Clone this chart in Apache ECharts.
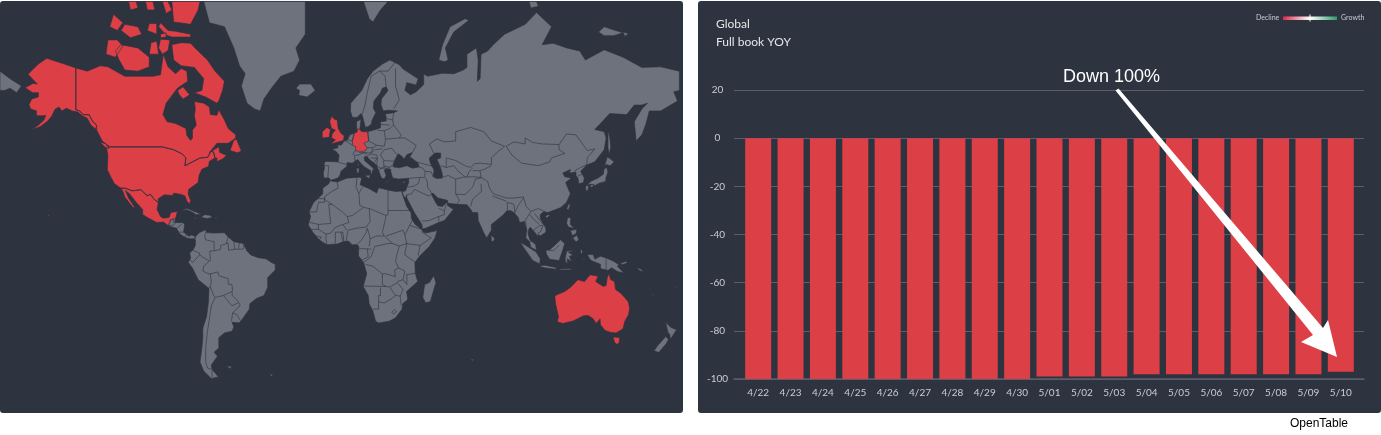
<!DOCTYPE html>
<html><head><meta charset="utf-8"><title>Global Full book YOY</title>
<script src="https://cdn.jsdelivr.net/npm/echarts@6/dist/echarts.min.js"></script>
<style>
html,body{margin:0;padding:0;background:#fff;width:1381px;height:435px;overflow:hidden}
.p{position:absolute;top:1px;height:412px;width:683px;background:#2e3340;border-radius:3px}
#c{position:absolute;left:0;top:0;width:1381px;height:435px}
</style></head><body>
<div class="p" style="left:0"></div><div class="p" style="left:698px"></div>
<div id="c"></div>
<script>
// ---------- bar chart data ----------
const days=['4/22','4/23','4/24','4/25','4/26','4/27','4/28','4/29','4/30','5/01','5/02','5/03','5/04','5/05','5/06','5/07','5/08','5/09','5/10'];
const yoy=[-100,-100,-100,-100,-100,-100,-100,-100,-100,-99,-99,-99,-98,-98,-98,-98,-98,-98,-97];
const yTicks=[20,0,-20,-40,-60,-80,-100];
// ---------- map data (lon,lat) ----------
const redCountries=['United States','Canada','Mexico','United Kingdom','Germany','Australia'];
const alaska=[[-141,69.6],[-148,70.4],[-156.5,71.3],[-161,70.3],[-166.5,68.4],[-163,67],[-161.5,66.4],[-164,66.5],[-168,65.6],[-164,64.5],[-161,64.5],[-161,63.5],[-164.5,63],[-166,61.6],[-165,60.5],[-162,60],[-162,58.7],[-158,58.7],[-157,58.8],[-158,57.5],[-161,56],[-164.5,54.7],[-160,55.5],[-156,57.2],[-154,58.5],[-152,60.5],[-150,61],[-148.5,60],[-146,60.7],[-143,60],[-140,59.7],[-137,58.5],[-135,58],[-133,56],[-130.5,54.8],[-130,56],[-132,57],[-134,59],[-137,59],[-139,60],[-141,60.3]];
const lower48=[[-124.7,48.4],[-123,49],[-95,49],[-89,48],[-84.5,46.5],[-82.5,45],[-83,42],[-79,43.5],[-75,45],[-71,45.2],[-69.2,47.4],[-67.8,47.2],[-67,45],[-70,43.7],[-70.5,41.7],[-74,40.6],[-75.5,38],[-76,35],[-81,32],[-81.3,30],[-80,26.8],[-80.5,25.2],[-82,26.5],[-83,29],[-85,29.7],[-89,30.3],[-89.5,29.2],[-94,29.5],[-97.2,27.7],[-97.2,25.9],[-99.5,27.5],[-101.5,29.8],[-103,29],[-106.5,31.8],[-111,31.3],[-114.8,32.5],[-117.1,32.5],[-120.5,34.5],[-122.5,37.5],[-124.3,40.4],[-124,46]];
const hawaii=[[-155.9,19.9],[-155,19.6],[-155.7,18.9]];
const oahu=[[-158.3,21.6],[-157.7,21.4],[-158,21.2]];
const canadaMain=[[-141,69.6],[-135,69],[-128,70],[-124,69.8],[-115,68],[-108,68],[-100,68],[-96,68.3],[-94.5,72],[-92,69.8],[-88,68.5],[-85,69.5],[-82,69],[-81.5,67],[-87,65.5],[-93,62],[-94.7,59],[-92.5,57],[-88,56.5],[-82.5,55],[-82,52.8],[-80,51.2],[-79,52],[-79,54.5],[-77,56],[-78,58.7],[-77.5,60.5],[-78,62.4],[-73,62],[-70,61],[-69.5,59],[-66,58.8],[-65,60.3],[-62,57.5],[-60,55],[-56,53],[-56,52],[-60,50.2],[-66,50.2],[-70,47],[-65,49],[-64.5,47],[-61,46],[-60,46.5],[-63,44.6],[-66,43.6],[-66,45],[-67,45],[-67.8,47.2],[-69.2,47.4],[-71,45.2],[-75,45],[-79,43.5],[-83,42],[-82.5,45],[-84.5,46.5],[-89,48],[-95,49],[-123,49],[-127,51],[-130,54.5],[-130,56],[-132,57],[-134,59],[-137,59],[-139,60],[-141,60.3]];
const newfoundland=[[-59,47.7],[-57,51.3],[-55.5,51.5],[-53,47.5],[-55,46.9]];
const vancouverI=[[-128.3,50.7],[-125,50],[-123.4,48.4],[-125.5,48.9]];
const baffin=[[-90,73.5],[-85,73.8],[-80,73.7],[-77,72.8],[-71,71],[-67,69],[-62,67],[-63,65],[-65,62.5],[-66,62],[-72,63.5],[-78,64.5],[-74,65],[-73,67.5],[-78,69.7],[-85,70],[-89,71]];
const victoria=[[-118,71],[-120,72.5],[-117,73.5],[-108,73],[-102,71.5],[-102,69.8],[-108,69],[-115,69.2]];
const banks=[[-125,72],[-124,74.2],[-119,74.2],[-116,73.3],[-120,71.5]];
const melville=[[-117,75.5],[-115,76.3],[-108,76],[-106,75],[-112,74.5]];
const patrick=[[-123,76],[-121,77.5],[-116,76.5],[-119,75.5]];
const bathurst=[[-103,75.5],[-102,76.4],[-98,76.4],[-98,75]];
const cornwallis=[[-96,75],[-93,75.2],[-93,74.6],[-96,74.5]];
const princeWales=[[-102,72],[-101,73.8],[-98,74],[-97,72]];
const somerset=[[-97,73],[-96,74.3],[-91,74.2],[-92,72.6],[-95,72]];
const devon=[[-96,76.5],[-92,75.5],[-88,75.4],[-80,75],[-80,74.6],[-90,74.6],[-93,74.9],[-97,76]];
const ellesmere=[[-90,78.9],[-89,76.6],[-80,76.3],[-76,78],[-75,78.9]];
const axel=[[-95,78.9],[-92,78.9],[-90,78],[-93,77.6]];
const ringnes=[[-104,78.9],[-100,78.9],[-99,78],[-103,78]];
const prinz=[[-113,78.9],[-109,78.9],[-108,78.2],[-112,78]];
const southampton=[[-87,65],[-84,65.8],[-80.5,64],[-84,63],[-86,64]];
const mexico=[[-117.1,32.5],[-114.8,32.5],[-111,31.3],[-106.5,31.8],[-103,29],[-101.5,29.8],[-99.5,27.5],[-97.2,25.9],[-97.8,22.5],[-96,19],[-94.5,18.2],[-91.5,18.5],[-90.5,21],[-87,21.5],[-88,18],[-89,17.8],[-91,17.2],[-91,16],[-92.2,14.6],[-94.5,16.2],[-98,16],[-102,18],[-105.5,20],[-105.5,22.5],[-109,26],[-112.5,30],[-114.7,31.5],[-113,28],[-110,24],[-110,23],[-112,25],[-115,28.5],[-116,31]];
const centralAm=[[-92.2,14.6],[-91,16],[-91,17.2],[-89,17.8],[-88,18],[-88.5,16],[-84,15.9],[-83.2,15],[-83.7,11],[-81,8.8],[-79.5,9.5],[-77.3,8.7],[-78,7.5],[-80,7.5],[-81.5,7.8],[-83,8.3],[-85.7,10],[-87.5,13],[-90,13.7]];
const cuba=[[-85,21.9],[-82,23.1],[-77,21.2],[-74.2,20.2],[-77.5,19.9],[-78,20.7],[-82,22.4]];
const hispaniola=[[-74.4,18.5],[-72.8,19.9],[-69.8,19.7],[-68.4,18.6],[-71,18]];
const jamaica=[[-78.3,18.4],[-76.3,18.1],[-77.5,17.8]];
const puerto=[[-67.2,18.5],[-65.7,18.4],[-66.5,17.9]];
const greenland=[[-73,78.9],[-70,76.5],[-62,76],[-57,73],[-54,70],[-51,68.5],[-53,66],[-50,62],[-46,60.5],[-43,60],[-41,63],[-37,65.5],[-32,68],[-25,69],[-22,71],[-24,73],[-19,75],[-19,78.9]];
const iceland=[[-24,65.5],[-22,66.4],[-16,66.4],[-13.7,65],[-18,63.5],[-22.5,63.9],[-22,65]];
const gb=[[-5.5,50],[-3.5,50.3],[1.3,51.2],[1.7,52.7],[0,53.5],[-1.5,55],[-2,57.5],[-3.5,57.7],[-5,58.6],[-6,57],[-5,55],[-3,54.5],[-4.7,53.3],[-5,52],[-3,51.4]];
const ireland=[[-10,52],[-6.3,52.2],[-6,53.5],[-5.6,54.7],[-7.5,55.3],[-10,54]];
const germany=[[6,51],[7,53.5],[8.6,53.9],[8.8,54.9],[10,54.7],[11,54],[14.2,54],[14.7,51],[12.2,50.3],[13.8,48.7],[13,47.5],[10,47.4],[7.6,47.6],[8,49],[6.2,49.5]];
const eurasia=[[-9,43],[-8,43.7],[-3,43.5],[-1.5,43.5],[-1,46],[-2.5,47.3],[-4.7,48.2],[-1.6,48.7],[-1.8,49.7],[0.2,49.6],[1.6,50.9],[3.5,51.4],[4.7,53],[7,53.5],[8.6,53.9],[8.3,55.5],[8.2,57],[10.6,57.7],[10.3,56],[10,54.7],[11,54],[14,54],[18.5,54.7],[21,55.2],[21,57],[24,57.2],[24,58.5],[23.5,59.2],[28,59.5],[30,60],[25,60.2],[22.5,60],[21.3,61.5],[21.5,63],[25,65],[24,65.8],[22,65.5],[21,64.5],[17.5,62.5],[17.2,60.7],[18.5,59.5],[16.6,57.5],[16,56.2],[14.3,55.5],[12.9,55.4],[11.5,58.5],[10.6,59.3],[8.5,58.2],[6,58.3],[5,60],[5.2,62],[8,63.5],[11,65],[14,67.5],[17,69],[22,70.3],[26,71],[31,70.2],[33,69.4],[41,67.5],[40,66.2],[35,66.7],[34,65],[37,64],[40,64.7],[44,66.3],[44,68.5],[46,68],[54,68.6],[60,68.5],[65,69.2],[67,69.7],[67,72],[72,73],[73,71],[72.5,67],[74,67.5],[74.5,72],[78,72.5],[81,73.5],[87,75],[98,76.3],[104,77.7],[112,76],[107,73.5],[113,73.7],[120,73],[127,72.5],[130,71],[140,72.7],[150,71.5],[160,69.7],[170,69.8],[180,69],[180,65],[177,64.7],[179,62.5],[170,60],[164,60],[163,58],[162,56],[160,53],[157,51],[156,57],[160,60.5],[163,62],[160,61.5],[156,61.5],[152,59],[143,59.3],[135,54.7],[140,54],[141,52],[140,48],[135,43.5],[130.7,42.3],[127.5,39.8],[129.4,37],[129,35],[126.5,34.5],[126,37],[125,38],[125,39.5],[121.5,39],[122,40.5],[118,39],[119,37.5],[122.5,37],[119.5,35],[121,32],[122,30],[120,26],[117,23.5],[113.5,22.2],[110,21],[108,21.5],[106,20],[106,18],[109,13],[109,11],[106,9],[105,10],[104.8,8.7],[103,11],[100.9,13.4],[100,13],[99.5,10],[100.5,7],[103.5,4.5],[104,1.4],[101,3],[100.3,6],[98.3,8],[98.7,12],[97.5,16.5],[95,16],[94.3,18.5],[92,21],[90,22],[88,21.7],[86.5,20],[82,16.5],[80,15],[80,12],[77.5,8],[76,10.5],[73,17],[72.7,21],[70,21],[69,22.5],[67,24.8],[62,25],[57,25.5],[56.5,27],[51.5,28],[49,30.2],[48,30],[50,26.5],[51,25],[51.5,24.3],[54,24],[56.3,26],[56.7,24.5],[59.8,22.5],[55,17],[52,16],[45,13],[43.3,12.7],[43,15],[39,21],[35,28],[34.9,29.5],[34.3,27.8],[33,29.5],[32.6,31],[34.3,31.3],[36,35],[36,36.8],[30.5,36.5],[27.5,37],[26.5,39.5],[26.5,40.5],[24,40.8],[23,40.3],[24,38],[23,36.5],[21.5,37],[19.5,41],[19,42.2],[15,44.5],[13.7,45.6],[12.3,45.3],[12.5,44],[16,41.8],[18.4,40],[17,40.5],[16.5,39],[15.7,38],[15.8,40],[12.5,41.5],[10.5,43],[8.8,44.4],[6,43],[3.2,43.2],[3.2,41.8],[0,39.8],[-0.7,37.8],[-2,36.8],[-5.4,36],[-6.5,37],[-9,37],[-9.5,38.7],[-8.8,41]];
const chukotka=[[-181.4,69],[-176,67.5],[-170,66],[-172.5,64.5],[-176,65.5],[-179,65],[-181.4,65]];
const novaya=[[52,71],[55,70.7],[57,71],[55.5,73],[60,75.3],[68,76.8],[66,77],[58,76],[54,73.5]];
const svalbard=[[12,78.9],[15,77],[17,76.6],[21,78],[25,78.9]];
const severnaya=[[100,78.9],[104,78.9],[105,78.4],[101,78.2]];
const siberianIs=[[137,75.3],[140,76],[146,75.5],[150,75.2],[145,74.8],[140,74.8]];
const lyakhov=[[150,75.3],[153,75.1],[151,74.7]];
const sakhalin=[[142,54.3],[143,52],[143.5,49],[142.7,46.2],[142,48.5]];
const honshu=[[130.9,34],[133,35.6],[136.8,37],[139.5,38.5],[140,40.8],[141.4,41.3],[142,39.5],[140.9,37],[140.8,35.5],[137,34.6],[135,33.6],[133,34.3]];
const hokkaido=[[140,41.6],[141.7,45.4],[145.3,43.5],[143.2,42],[141,42.5]];
const kyushu=[[130,33.5],[131.8,33.7],[131.3,31.3],[130.3,31.5]];
const shikoku=[[132.5,33.8],[134.6,34.2],[134.2,33.3],[133,32.8]];
const taiwan=[[121,25.2],[122,25],[120.9,22],[120.1,23]];
const hainan=[[108.7,19.3],[110.5,20],[111,19.5],[109.5,18.2]];
const sriLanka=[[79.8,9.6],[81.8,7.5],[81,6.1],[80,6.1]];
const sumatra=[[95.3,5.6],[98,4.2],[103.8,0.5],[106,-3],[105.7,-5.8],[102,-4],[98.5,1]];
const java=[[105.2,-6.8],[108.5,-6.5],[114.5,-7.7],[114.3,-8.6],[108,-7.8]];
const borneo=[[109,1.5],[111,1.7],[113,3.5],[116.8,7],[119,5],[117.8,1],[116,-4],[111,-3.3],[109.2,-0.5]];
const sulawesi=[[120,1],[125,1.5],[121,0.4],[123.4,-1],[121.5,-1.8],[122.8,-4.8],[120.4,-3],[120.4,-5.5],[119.5,-5],[119.2,-3.2]];
const newGuinea=[[131,-0.8],[134.2,-0.8],[135,-3.3],[138,-1.7],[141,-2.6],[145,-4.4],[147.8,-6.2],[147,-7],[150.5,-10.5],[147,-9.8],[144,-7.8],[142,-9.2],[138,-8.2],[138,-6],[133,-4],[132,-2.7]];
const newBritain=[[148.5,-5.6],[152,-4.2],[152,-5.5],[149.5,-6.2]];
const solomon=[[157,-7.5],[159.5,-8.5],[161,-10],[159,-9.4]];
const luzon=[[120.5,18.5],[122.2,18.4],[122,15],[124,13],[121,13.7],[120,15.5]];
const mindanao=[[122,7],[125.5,9.5],[126.5,7],[125,5.8],[123.5,7.7]];
const visayas=[[122,11.8],[125.5,12.5],[125,10.2],[123,9.2]];
const halmahera=[[127.5,2],[128.5,1],[128,-0.8],[127.3,0.5]];
const seram=[[128,-3],[130.8,-3.2],[129,-3.5]];
const flores=[[116,-8.4],[123,-8.2],[122,-8.9],[117,-9]];
const timor=[[123.5,-10.3],[127.2,-8.4],[125,-9.6]];
const madagascar=[[49.3,-12],[50.5,-15.5],[47.5,-25],[45,-25.5],[43.5,-23],[44.5,-16.5],[47,-15.5]];
const kerguelen=[[69,-49],[70.5,-49],[70,-49.7]];
const australia=[[113.7,-22.5],[114.2,-26.3],[115.7,-32],[115,-34.3],[118,-35],[123.5,-33.9],[129,-31.6],[131.5,-31.5],[134,-32.8],[135.7,-35],[137.8,-33],[138,-35.6],[140.5,-38],[143.5,-38.8],[146.3,-39],[150,-37.3],[151,-34],[153,-31],[153.5,-28],[152.8,-25],[149,-21],[146,-19],[145.5,-15],[143.5,-14],[142.5,-10.8],[141.6,-13],[141,-17],[139.5,-17.5],[135.5,-15],[136.8,-12.2],[132.5,-11.5],[129.5,-15],[126,-14],[122,-18],[119,-20],[114.5,-21.8]];
const tasmania=[[144.7,-40.7],[148.2,-40.9],[148,-43],[146.8,-43.6],[145.5,-42.8]];
const nzNorth=[[172.7,-34.5],[175.5,-36.7],[178.5,-37.7],[177,-39.5],[175.3,-41.6],[174.8,-39.5],[174,-39]];
const nzSouth=[[172.7,-40.5],[174.2,-41.7],[172.8,-43.5],[171,-45],[169,-46.6],[166.5,-46],[168.5,-44],[171,-42]];
const newCaledonia=[[164,-20.2],[167,-22.2],[166,-22]];
const fiji=[[177.3,-17.5],[178.6,-17.6],[178,-18.2]];
const sicily=[[12.5,38],[15.6,38.2],[15,36.7]];
const sardinia=[[8.2,41],[9.7,41],[9.5,39.1],[8.5,39]];
const corsica=[[8.7,42.5],[9.5,43],[9.3,41.5]];
const crete=[[23.6,35.5],[26.3,35.3],[24,35]];
const cyprus=[[32.3,35],[34.5,35.6],[33.5,34.7]];
const falkland=[[-61,-51.4],[-58,-51.4],[-59,-52.2]];
const sGeorgia=[[-38,-54],[-36,-54.1],[-37,-54.6]];
const southAm=[[-77.3,8.7],[-75.5,10.7],[-72,12.2],[-71.5,10.8],[-68,10.5],[-62,10.7],[-60,8.5],[-57,6],[-52,5],[-50,1],[-48,-1],[-44,-2.5],[-40,-3],[-37,-5],[-35,-6],[-35,-9],[-39,-13],[-39,-18],[-41,-22],[-45,-23.5],[-48.5,-26],[-48.7,-28.5],[-52,-32.5],[-54,-34.7],[-58,-34.5],[-57,-36.5],[-58,-38.3],[-62,-39],[-65,-41],[-65,-45],[-67.5,-46.5],[-65.7,-48],[-69,-51],[-68.5,-52.5],[-65.2,-54.8],[-69,-55.3],[-73,-53],[-75,-50],[-74,-45],[-73.5,-41],[-73.5,-37],[-71.5,-32],[-70.5,-25],[-70.2,-18.5],[-76,-14],[-79,-8],[-81.2,-5],[-80,-2.5],[-80.5,0],[-78.5,2],[-77.5,4],[-77.4,7],[-78,7.5]];
const africa=[[-5.9,35.8],[-2,35.2],[3,36.9],[10,37.3],[11,36.9],[10.2,34],[15,32.3],[19,30.3],[20,32.7],[25,31.7],[29,31],[32.3,31.2],[32.6,29.9],[35,24],[37.2,21],[37.5,18],[39.5,15],[43.2,12.3],[43.2,11.5],[45,10.5],[51.2,11.8],[50,8],[47,3.5],[42,-1.5],[39.3,-5],[39.5,-10.5],[40.8,-15],[34.9,-20],[35.5,-24],[32.8,-26],[32.5,-28.5],[29,-32.5],[25.7,-34],[20,-34.8],[18.4,-34],[17,-29.5],[15,-26],[14.5,-22],[11.8,-17.5],[13.7,-11],[12,-5],[9.3,-1.5],[9.5,3.5],[8.5,4.5],[6,4.3],[4,6.3],[1,5.9],[-2,4.8],[-7.5,4.4],[-11.5,6.9],[-15,11],[-17.4,14.7],[-16.2,19],[-17,21.4],[-14.5,26],[-12,28],[-9.7,30],[-9.7,32.5],[-6.5,34.5]];
const blackSea=[[28,41.5],[31,41.2],[35,42],[38,41],[41.5,41.5],[41,43],[37.5,45],[36.5,45.3],[38,47],[35,46.2],[33.5,44.5],[32.5,45.5],[30.5,46.5],[28.5,44],[27.7,42.5]];
const caspian=[[47,45],[50,46.8],[53,46.8],[53,45],[51,44.5],[52.8,41.5],[53.8,39],[54,37],[51,36.7],[49,37.5],[49.5,40.3],[47.5,43]];
const landShapes=[
 {name:'Eurasia',rings:[eurasia,chukotka,novaya,svalbard,severnaya,siberianIs,lyakhov,sakhalin,honshu,hokkaido,kyushu,shikoku,taiwan,hainan,sriLanka,sumatra,java,borneo,sulawesi,newGuinea,newBritain,solomon,luzon,mindanao,visayas,halmahera,seram,flores,timor,sicily,sardinia,corsica,crete,cyprus]},
 {name:'Islands',rings:[greenland,iceland,madagascar,kerguelen,nzNorth,nzSouth,newCaledonia,fiji,falkland,sGeorgia,cuba,hispaniola,jamaica,puerto,centralAm]},
 {name:'Africa',rings:[africa]},{name:'South America',rings:[southAm]},
 {name:'Black Sea',rings:[blackSea]},{name:'Caspian Sea',rings:[caspian]},
 {name:'United States',rings:[alaska,lower48,hawaii,oahu]},
 {name:'Canada',rings:[canadaMain,newfoundland,vancouverI,baffin,victoria,banks,melville,patrick,bathurst,cornwallis,princeWales,somerset,devon,ellesmere,axel,ringnes,prinz,southampton]},
 {name:'Mexico',rings:[mexico]},{name:'United Kingdom',rings:[gb,ireland]},
 {name:'Germany',rings:[germany]},{name:'Australia',rings:[australia,tasmania]}
];
const seaShapes=['Black Sea','Caspian Sea'];
const borders=[
 [[-141,69.6],[-141,60.3]],[[-130,56],[-132,57],[-134,59],[-137,59],[-139,60],[-141,60.3]],[[-123,49],[-95,49],[-89,48],[-84.5,46.5],[-82.5,45],[-83,42],[-79,43.5],[-75,45],[-71,45.2],[-69.2,47.4],[-67.8,47.2],[-67,45]],
 [[-117.1,32.5],[-114.8,32.5],[-111,31.3],[-106.5,31.8],[-103,29],[-101.5,29.8],[-99.5,27.5],[-97.2,25.9]],
 [[-89.2,17.9],[-89.2,15.9]],[[-92,14.6],[-89.3,14.5],[-88,15.8]],[[-87.5,13],[-84.7,15]],[[-85.7,11],[-83.7,11]],[[-83,8.3],[-82.6,9.6]],[[-77.9,7.2],[-77.3,8.7]],
 // South America
 [[-71.5,11.8],[-72.5,9],[-72,7],[-67.5,6],[-67.5,2],[-67,1.2]],[[-67,1.2],[-69.8,1],[-69.5,-4.3]],[[-60,8.5],[-61,5],[-60,5.2]],[[-60.7,5],[-64,4],[-64,2],[-67,1.2]],[[-60,5.2],[-59.8,1.5],[-56.5,2]],[[-57,6],[-56.5,2]],[[-54,5.7],[-54.5,2.3]],[[-56.5,2],[-52,2],[-51.5,4.3]],[[-78.8,1.4],[-75.2,0],[-75.2,-0.9]],[[-75.2,-0.9],[-73,-2.5],[-70,-4.3]],[[-80.3,-3.4],[-79,-5],[-77,-3],[-75.2,-0.9]],[[-70,-4.3],[-73,-7],[-73.5,-9.5],[-70.5,-11],[-69.5,-11]],[[-69.5,-11],[-69,-15],[-69.5,-17.5]],[[-69.5,-17.5],[-70.4,-18.3]],[[-69.5,-17.5],[-68,-21.5],[-67,-23]],[[-67,-23],[-69,-27],[-70,-33],[-71,-38],[-72,-45],[-72,-50],[-71,-52],[-68.5,-52.5]],[[-68.6,-52.7],[-68.6,-54.9]],[[-69.5,-11],[-65.5,-10],[-65,-12],[-60,-13.5],[-60,-16.3],[-58,-16.5],[-57.7,-19.5]],[[-57.7,-19.5],[-58,-20],[-62.5,-22]],[[-62.5,-22],[-67,-23]],[[-57.9,-20],[-57.9,-22],[-55.5,-24],[-54.5,-25.5]],[[-62.5,-22],[-58,-27],[-54.5,-25.5]],[[-54,-25.6],[-53.7,-27],[-57.6,-30.2]],[[-57.6,-30.2],[-58.3,-34]],[[-57.6,-30.2],[-55.5,-31],[-53.5,-33.7]],
 // Africa
 [[-2,35.2],[-1.5,32.5],[-5,31],[-8.7,28.7],[-8.7,27.3]],[[-13,27.7],[-8.7,27.7]],[[-8.7,27.7],[-8.7,26],[-12,26],[-13,21.3],[-17,21.3]],[[8.5,37],[8,33],[9.5,30.2]],[[11.5,33],[9.5,30.2]],[[9.5,30.2],[10,24.5],[12,23.5]],[[12,23.5],[6,19.5],[3.3,19]],[[3.3,19],[1.2,21],[-4.8,25]],[[-4.8,25],[-8.7,27.3]],[[-4.8,25],[-6.5,25],[-5.5,15.5],[-12,15],[-16.5,16]],[[25,31.7],[25,20]],[[25,20],[24,19.5]],[[24,19.5],[15,23]],[[12,23.5],[15,23]],[[25,22],[36.8,22]],[[24,19.5],[22.5,13],[22,11],[23,9]],[[15,23],[15.5,16.5],[13.5,13.7]],[[13.5,13.7],[8,13],[3.7,12]],[[3.3,19],[4.2,16],[1,15]],[[1,15],[3,12]],[[-5.5,10.5],[-3,13.5],[1,15]],[[-12,12.5],[-8,10],[-5.5,10.5]],[[-12,15],[-12,12.5]],[[-16.7,12.4],[-12,12.5]],[[-8,10],[-8,7.5],[-7.5,4.4]],[[-11.5,6.9],[-10.5,8.5],[-13,9]],[[-3,11],[1,11]],[[-3,11],[-3,5]],[[0,11],[1,6]],[[1.5,6.2],[1,11]],[[2.7,6.3],[3.7,12]],[[8.5,4.5],[11,7],[13.5,11],[14,13]],[[14,13],[15,10],[15.5,7.5]],[[15.5,7.5],[15,3.5]],[[9.8,2.3],[14,2.2],[16,2]],[[14,2.2],[14.5,-2],[11,-3.8]],[[12,-5],[16,-2],[18,3.5]],[[15.5,7.5],[19,9],[23,9]],[[18,3.5],[25,5],[27.5,5]],[[23,9],[27.5,5]],[[24,9],[33,12],[34,9.5]],[[34,9.5],[35,5]],[[35,5],[31,3.7],[27.5,5]],[[31,3.7],[29.6,-1.4]],[[35,5],[34,0],[34,-1]],[[34,-1],[39.3,-4.7]],[[29.6,-1.4],[29,-4.5],[30.7,-8]],[[34.7,-11.5],[40.4,-10.5]],[[30.7,-8],[28.5,-9],[29,-12.5],[24,-11],[22,-11]],[[13,-6],[17,-7],[22,-11]],[[22,-11],[22,-16.5],[24,-17.5]],[[11.8,-17.3],[24,-17.5]],[[30,-15],[33,-14]],[[30.7,-8],[34,-9.5]],[[34,-9.5],[33,-14],[35,-16.5],[35,-11.5]],[[24,-17.5],[26,-17.8],[30,-15.5],[33,-19],[31.5,-22.3],[29,-22],[26,-18]],[[21,-18],[21,-22],[20,-22],[20,-28.5]],[[20,-28.5],[17,-28.5]],[[20,-25],[23,-25.7],[27,-23.5],[29,-22]],[[31.5,-22.3],[32,-26.8]],[[27,-30],[28.5,-28.7],[29.5,-29.8],[28,-30.8],[27,-30]],[[38.5,18],[36.5,14.5]],[[36.5,14.5],[43,12.5]],[[36.5,14.5],[34,9.5]],[[35,5],[42,4]],[[42,4],[48,8],[43,11]],[[42,4],[41,-1.5]],
 // Europe
 [[-1.7,43.4],[3.2,42.4]],[[-8.8,42],[-6.5,42],[-7,37.2]],[[2.5,51],[5,50],[6,49.5]],[[3.5,51.3],[6,51],[7,53.4]],[[7.5,43.8],[7,46]],[[6,46.2],[7.6,47.6]],[[7,46],[9,46],[12.5,47],[13.7,46]],[[9.6,47],[16,46.8],[17,48.7],[13.8,48.7]],[[14.3,54],[14.7,51],[19,49.5],[23,49.2],[23.7,51.5],[23,54.3],[19.5,54.4]],[[19,49.5],[17,48.7]],[[16,46.8],[18,48],[22,48.3]],[[23,48],[27,48.5],[30,46],[29.7,45.3]],[[23,48],[21,46.2],[22.7,44.2]],[[22.7,44],[28.5,43.7]],[[22.5,42],[26,41.3],[26.3,41.8],[28,42]],[[13.7,45.5],[16,46.5],[19,46],[19.4,45],[19,42.2]],[[19.4,42],[21,41],[23,41.3],[22.5,44]],[[20,39.8],[21,41],[26,41]],[[15.8,45],[19.2,44.9],[17.5,43]],[[11.2,59],[12.5,61],[14,64.5],[16,68],[20.5,69],[25,69],[28.5,70.5]],[[24,65.8],[23.5,68],[20.5,69]],[[28,60.5],[31,62.8],[29,66],[29,69.5]],[[28,59.5],[27.5,57.5],[28,56],[26,55],[23,54.3]],[[24.3,57.9],[27.5,57.5]],[[21,56.2],[26,56]],[[28,56],[32,53],[31,52]],[[23.7,51.6],[31,52]],[[31,52],[34,52],[40,49.5],[38,47]],
 // Asia
 [[49.5,46.5],[47,50],[51,51.7],[55,50.7],[61,51],[61,54],[69,55.3],[76,54],[80,51],[87,49.2]],[[87,49.2],[83,47],[80,45],[80,42.5]],[[87.8,49.2],[92,50.7],[98,50],[98,52],[102,50.5],[107,50],[116,49.8]],[[87.8,49.2],[91,46],[96,43],[105,42],[111,43.5],[112,45],[119,46.7],[116,48],[116,49.8]],[[116,49.8],[120,53.3],[125,53],[131,47.7],[135,48.3],[131,45],[130.7,42.3]],[[130.7,42.3],[128,41.5],[124.3,40]],[[126,37.8],[128.4,38.6]],[[53,42],[56,41.3],[56,45],[61,44],[66,42],[69,41.3],[71,42.8],[74,43],[80,42.5]],[[40,43.5],[44,42.7],[48.5,41.8]],[[41.5,41.5],[43.5,41],[44.8,39.7]],[[44.8,39.7],[44.5,37.5]],[[36,36.8],[42,37.2],[44.5,37.2]],[[44.8,37.2],[46,35],[46,33],[48.5,30]],[[44.8,39.7],[48,39.5],[49,37.5]],[[54,37.3],[57,38],[61,36.5]],[[61,36.5],[61,31.5],[61,30]],[[61,30],[63,27],[61.7,25]],[[61,29.8],[66,29.6],[70,33],[71.5,36.5],[74.5,37]],[[61,36.5],[65,37.3],[70,37.5],[74.5,37.2]],[[56,41.3],[60,42],[62,40],[66,37.5]],[[67,37.3],[68,39.5],[70,41]],[[70,40],[74,40],[76,40.5],[80,42]],[[74,39.8],[74.5,37.2]],[[74.5,37.2],[78,35.5],[79,32.5],[81,30],[88,28],[92,28],[97,28.5]],[[74.5,34.5],[74.7,31],[70,27.5],[69,24]],[[80.5,29],[88,26.5]],[[88.5,26],[88.5,22]],[[88.5,26],[92,25],[92.5,21]],[[97,28],[94,24],[92.5,21]],[[97,28.5],[98.5,24],[101,21.5]],[[101,21.5],[105,23],[108,21.6]],[[101,21.5],[98,17],[99,11]],[[100.5,20],[102,18],[105.5,15]],[[103,20.5],[105,18],[107.5,15]],[[102.5,12],[105.5,14.3],[107.5,14.5],[106,11],[104.5,10.4]],[[100.2,6.4],[102,6]],[[141,-2.6],[141,-9.1]],[[109.7,1.6],[113,1.2],[115,3],[116,4.2]],
 [[35.5,33],[38.7,33.4],[41,34.5],[42,37]],[[39,32],[46.5,29],[48,29.5]],[[35,29.4],[37.5,30],[39,32]],[[43,16.7],[47,17],[52,19],[55,20],[55,22],[52,23]],[[52,16.5],[52,19]],[[55,22],[56,25]]
];
// ---------- helpers ----------
const lonScale=1.88, radScale=107.9, lon0X=341, equatorY=253;
const mercProj={
 project:([lon,lat])=>[lon0X+lonScale*lon, equatorY-radScale*Math.log(Math.tan(Math.PI/4+lat*Math.PI/360))],
 unproject:([x,y])=>[(x-lon0X)/lonScale,(2*Math.atan(Math.exp((equatorY-y)/radScale))-Math.PI/2)*180/Math.PI]
};
const geoJson={type:'FeatureCollection',features:landShapes.map(s=>({type:'Feature',properties:{name:s.name},geometry:{type:'MultiPolygon',coordinates:s.rings.map(r=>[r.concat([r[0]])])}}))};
echarts.registerMap('world',geoJson);
const PANEL='#2e3340',GRAY='#6e727d',RED='#dc3f45',TXT='#c9ccd3',GRID='#5a5e6a';
const chart=echarts.init(document.getElementById('c'),null,{renderer:'canvas',width:1381,height:435});
chart.setOption({
 animation:false,backgroundColor:'transparent',
 geo:{map:'world',projection:mercProj,silent:true,left:0,top:0,width:1381,height:435,
  boundingCoords:[mercProj.unproject([0,0]),mercProj.unproject([1381,435])],
  label:{show:false},
  itemStyle:{areaColor:GRAY,borderColor:PANEL,borderWidth:0.6},
  regions:redCountries.map(n=>({name:n,itemStyle:{areaColor:RED}})).concat(seaShapes.map(n=>({name:n,itemStyle:{areaColor:PANEL}})))
 },
 grid:[{left:734,top:90,width:630,height:289},{left:742,top:90,width:615,height:289}],
 xAxis:[
  {gridIndex:0,type:'category',data:[''],axisLine:{show:true,onZero:false,lineStyle:{color:GRID,width:1.5}},axisTick:{show:false},axisLabel:{show:false},splitLine:{show:false}},
  {gridIndex:1,type:'category',data:days,axisLine:{show:false},axisTick:{show:false},splitLine:{show:false},
   axisLabel:{color:TXT,fontFamily:'Lato',fontSize:10,margin:9,interval:0}}
 ],
 yAxis:[
  {gridIndex:0,type:'value',min:-100,max:20,interval:20,axisLine:{show:false},axisTick:{show:false},
   splitLine:{show:true,lineStyle:{color:GRID,width:1}},
   axisLabel:{color:TXT,fontFamily:'Lato',fontSize:10,margin:16.5,align:'center',padding:[3,0,0,0]}},
  {gridIndex:1,type:'value',min:-100,max:20,interval:20,show:false}
 ],
 series:[
  {type:'lines',coordinateSystem:'geo',polyline:true,silent:true,z:3,
   lineStyle:{color:PANEL,width:0.6,opacity:1},
   data:borders.map(b=>({coords:b}))},
  {type:'bar',xAxisIndex:1,yAxisIndex:1,data:yoy,barWidth:26,silent:true,itemStyle:{color:RED}}
 ],
 graphic:{elements:[
  {type:'text',z:50,left:716,top:18,style:{text:'Global',fill:'#e4e5e8',font:'12px Lato'}},
  {type:'text',z:50,left:716,top:36,style:{text:'Full book YOY',fill:'#e4e5e8',font:'12px Lato'}},
  {type:'text',z:50,left:1256,top:14,style:{text:'Decline',fill:'#c9ccd3',font:'7px Lato'}},
  {type:'text',z:50,left:1341,top:14,style:{text:'Growth',fill:'#c9ccd3',font:'7px Lato'}},
  {type:'rect',z:50,shape:{x:1283,y:16.5,width:54,height:3.5},style:{fill:new echarts.graphic.LinearGradient(0,0,1,0,[{offset:0,color:'#dc2a4c'},{offset:0.5,color:'#ffffff'},{offset:1,color:'#2f9a68'}])}},
  {type:'rect',z:51,shape:{x:1309.5,y:14.5,width:1,height:7},style:{fill:'#ffffff'}},
  {type:'polygon',z:60,shape:{points:[[1115.5,90.5],[1118.5,88.5],[1323,328],[1328,320],[1337,357],[1301,342],[1313,335]]},style:{fill:'#ffffff'}},
  {type:'text',z:60,left:1063,top:68,style:{text:'Down 100%',fill:'#ffffff',font:'18px "Liberation Sans"'}},
  {type:'text',z:60,left:1290,top:418,style:{text:'OpenTable',fill:'#000000',font:'12px "Liberation Sans"'}}
 ]}
});
</script></body></html>
